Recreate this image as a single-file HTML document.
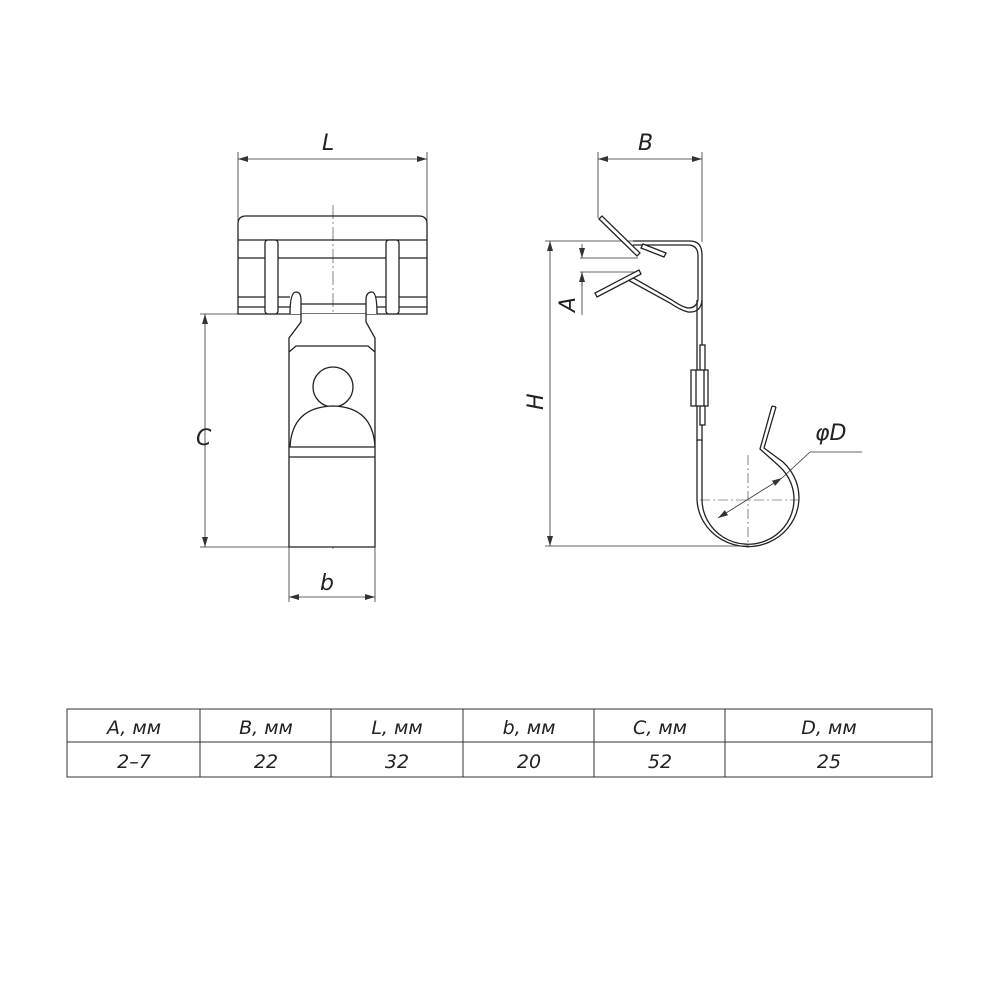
<!DOCTYPE html>
<html><head><meta charset="utf-8"><style>
html,body{margin:0;padding:0;background:#fff}
svg{display:block}
text{font-family:"DejaVu Sans","Liberation Sans",sans-serif;font-style:italic;fill:#222}
</style></head><body>
<svg width="1000" height="1000" viewBox="0 0 1000 1000" xmlns="http://www.w3.org/2000/svg">
<defs>
<marker id="ar" viewBox="0 0 10 6" refX="10" refY="3" markerWidth="10" markerHeight="6" orient="auto-start-reverse" markerUnits="userSpaceOnUse"><path d="M0,0 L10,3 L0,6 z" fill="#333"/></marker>
</defs>
<g stroke="#333" stroke-width="0.8" fill="none">
<line x1="238" y1="159" x2="427" y2="159" marker-start="url(#ar)" marker-end="url(#ar)"/>
<line x1="238" y1="152" x2="238" y2="222"/><line x1="427" y1="152" x2="427" y2="222"/>
<line x1="205" y1="314" x2="205" y2="547" marker-start="url(#ar)" marker-end="url(#ar)"/>
<line x1="200" y1="314" x2="240" y2="314"/><line x1="200" y1="547" x2="289" y2="547"/>
<line x1="289" y1="597" x2="375" y2="597" marker-start="url(#ar)" marker-end="url(#ar)"/>
<line x1="289" y1="547" x2="289" y2="602"/><line x1="375" y1="547" x2="375" y2="602"/>
<line x1="333" y1="205" x2="333" y2="552" stroke-dasharray="14,3,2,3" stroke-width="0.6"/>
</g>
<g stroke="#222" stroke-width="1.3" fill="none">
<path d="M238,314 L238,224 Q238,216 246,216 L419,216 Q427,216 427,224 L427,314 Z"/>
<line x1="238" y1="240" x2="427" y2="240"/>
<line x1="238" y1="258" x2="427" y2="258"/>
<line x1="238" y1="297" x2="290" y2="297"/><line x1="375" y1="297" x2="427" y2="297"/>
<line x1="238" y1="307" x2="290" y2="307"/><line x1="375" y1="307" x2="427" y2="307"/>
<rect x="265" y="240" width="13" height="74" rx="3" fill="#fff"/>
<rect x="386" y="240" width="13" height="74" rx="3" fill="#fff"/>
<path d="M290,314 Q290,292 296,292 Q301,292 301,300 L301,322 L289,338 L289,547 L375,547 L375,338 L366,322 L366,300 Q366,292 372,292 Q377,292 377,314" fill="#fff"/>
<line x1="301" y1="304" x2="366" y2="304"/>
<path d="M289,352 L296,346 L368,346 L375,352"/>
<circle cx="333" cy="387" r="20" fill="#fff"/>
<path d="M290,447 Q292,407 333,406 Q373,407 375,447" fill="#fff"/>
<line x1="289" y1="447" x2="375" y2="447"/>
<line x1="289" y1="457" x2="375" y2="457"/>
</g>
<g stroke="#333" stroke-width="0.8" fill="none">
<line x1="598" y1="159" x2="702" y2="159" marker-start="url(#ar)" marker-end="url(#ar)"/>
<line x1="598" y1="152" x2="598" y2="218"/><line x1="702" y1="152" x2="702" y2="242"/>
<line x1="550" y1="241" x2="550" y2="546" marker-start="url(#ar)" marker-end="url(#ar)"/>
<line x1="545" y1="241" x2="635" y2="241"/><line x1="545" y1="546" x2="748" y2="546"/>
<line x1="582" y1="244" x2="582" y2="258" marker-end="url(#ar)"/>
<line x1="582" y1="286" x2="582" y2="272" marker-end="url(#ar)"/>
<line x1="582" y1="272" x2="582" y2="315"/>
<line x1="580" y1="258" x2="638" y2="258"/><line x1="580" y1="272" x2="640" y2="272"/>
<line x1="748" y1="455" x2="748" y2="548" stroke-dasharray="10,3,2,3" stroke-width="0.6"/>
<line x1="700" y1="500" x2="798" y2="500" stroke-dasharray="10,3,2,3" stroke-width="0.6"/>
<line x1="718" y1="518" x2="782" y2="478" marker-start="url(#ar)" marker-end="url(#ar)"/>
<line x1="782" y1="478" x2="810" y2="452"/><line x1="810" y1="452" x2="862" y2="452"/>
</g>
<g stroke="#222" stroke-width="1.3" fill="none">
<path d="M633,241 L690,241 Q702,241 702,255 L702,300 Q701,313 688,312 Q680,310 670,303 L628,280"/>
<path d="M633,245 L688,245 Q698,245 698,256 L698,299 Q697,308 688,308 Q682,307 672,300 L630,276"/>
<path d="M599,219 L602,216 L640,253 L637,256 Z" fill="#fff"/>
<path d="M643,244 L666,253 L664,257 L641,248 Z" fill="#fff"/>
<path d="M597,297 L595,293 L639,270 L641,274 Z" fill="#fff"/>
<path d="M697,300 L697,440 L702,440 L702,300"/>
<rect x="700" y="345" width="5" height="80" fill="#fff"/>
<rect x="691" y="370" width="17" height="36" fill="#fff"/>
<line x1="696" y1="370" x2="696" y2="406"/><line x1="704" y1="370" x2="704" y2="406"/>
<path d="M697,440 L697,500 A51,49 0 1 0 783,462 L764,448 L776,407"/>
<path d="M702,440 L702,500 A46,45 0 1 0 779,466 L760,449 L772,406"/>
<line x1="772" y1="406" x2="776" y2="407"/>
</g>
<g font-size="22">
<text x="322" y="150">L</text>
<text x="320" y="590">b</text>
<text x="196" y="445">C</text>
<text x="638" y="150">B</text>
<text x="815" y="440">φD</text>
<text transform="translate(543,410) rotate(-90)">H</text>
<text transform="translate(575,312) rotate(-90)">A</text>
</g>
<g stroke="#333" stroke-width="1" fill="none">
<rect x="67" y="709" width="865" height="68"/>
<line x1="67" y1="742" x2="932" y2="742"/>
<line x1="200" y1="709" x2="200" y2="777"/><line x1="331" y1="709" x2="331" y2="777"/>
<line x1="463" y1="709" x2="463" y2="777"/><line x1="594" y1="709" x2="594" y2="777"/>
<line x1="725" y1="709" x2="725" y2="777"/>
</g>
<g font-size="19" text-anchor="middle">
<text x="134" y="734">A, мм</text><text x="266" y="734">B, мм</text><text x="397" y="734">L, мм</text>
<text x="529" y="734">b, мм</text><text x="660" y="734">C, мм</text><text x="829" y="734">D, мм</text>
<text x="134" y="768">2–7</text><text x="266" y="768">22</text><text x="397" y="768">32</text>
<text x="529" y="768">20</text><text x="660" y="768">52</text><text x="829" y="768">25</text>
</g>
</svg>
</body></html>
